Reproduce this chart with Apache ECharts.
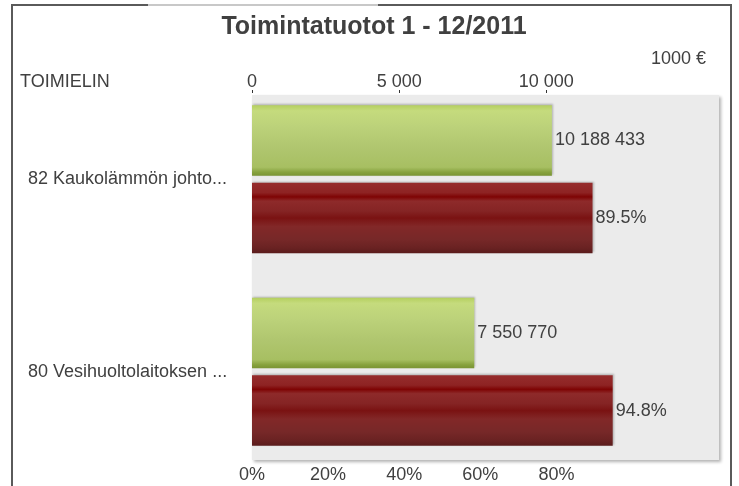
<!DOCTYPE html>
<html>
<head>
<meta charset="utf-8">
<script src="https://cdn.jsdelivr.net/npm/echarts@6/dist/echarts.min.js"></script>
<style>
  html, body { margin: 0; padding: 0; background: #fff; }
  #chart { width: 739px; height: 486px; }
</style>
</head>
<body>
<div id="chart"></div>
<script>
// toimielimet
const categories = ["82 Kaukolämmön johto...", "80 Vesihuoltolaitoksen ..."];
// toimintatuotot euroina
const tuotot = [10188433, 7550770];
// toteutumisprosentti
const toteuma = [89.5, 94.8];
// akselien näkyvät arvot
const topTicks = [0, 5000, 10000];
const bottomTicks = [0, 20, 40, 60, 80];

const font = "Liberation Sans";
const textColor = "#404040";

// välilyönti tuhaterottimena
function fmt(n) {
  return String(Math.round(n)).replace(/\B(?=(\d{3})+(?!\d))/g, " ");
}

const chart = echarts.init(document.getElementById("chart"));

const greenFill = new echarts.graphic.LinearGradient(0, 0, 0, 1, [
  { offset: 0, color: "#b4cf5e" },
  { offset: 0.08, color: "#c5db7d" },
  { offset: 0.3, color: "#bcd27a" },
  { offset: 0.6, color: "#b0c66f" },
  { offset: 0.88, color: "#a7bf62" },
  { offset: 0.95, color: "#87a23e" },
  { offset: 1, color: "#7a9434" },
]);
const redFill = new echarts.graphic.LinearGradient(0, 0, 0, 1, [
  { offset: 0, color: "#962c2c" },
  { offset: 0.14, color: "#8e2323" },
  { offset: 0.2, color: "#7e0404" },
  { offset: 0.26, color: "#8e2a2a" },
  { offset: 0.4, color: "#852424" },
  { offset: 0.5, color: "#7a1212" },
  { offset: 0.62, color: "#822828" },
  { offset: 0.8, color: "#772828" },
  { offset: 0.92, color: "#6a2222" },
  { offset: 1, color: "#5a1c1c" },
]);

const option = {
  animation: false,
  textStyle: { fontFamily: font },
  title: {
    text: "Toimintatuotot 1 - 12/2011",
    left: 369,
    top: 10,
    textAlign: "center",
    textStyle: { fontFamily: font, fontSize: 25, fontWeight: "bold", color: textColor },
  },
  graphic: [
    {
      type: "rect",
      z: -10,
      shape: { x: 252, y: 95, width: 467, height: 365 },
      style: {
        fill: "#ebebeb",
        shadowColor: "rgba(0,0,0,0.3)",
        shadowBlur: 3,
        shadowOffsetX: 2,
        shadowOffsetY: 2,
      },
      silent: true,
    },
    {
      type: "rect",
      shape: { x: 12, y: 5, width: 719, height: 490 },
      style: { fill: "none", stroke: "#5a5a5a", lineWidth: 2 },
      silent: true,
    },
    {
      type: "line",
      shape: { x1: 148, y1: 5, x2: 378, y2: 5 },
      style: { stroke: "#c8c8c8", lineWidth: 2 },
      silent: true,
    },
    {
      type: "text",
      left: 651,
      top: 50,
      style: { text: "1000 €", font: "18px " + font, fill: textColor },
    },
    {
      type: "text",
      left: 20,
      top: 73,
      style: { text: "TOIMIELIN", font: "18px " + font, fill: textColor },
    },
  ],
  grid: {
    left: 252,
    right: 19,
    top: 83,
    bottom: 18,
  },
  xAxis: [
    {
      type: "value",
      position: "top",
      offset: -10,
      min: 0,
      max: 15900,
      axisLine: { show: false },
      splitLine: { show: false },
      axisTick: { show: true, customValues: topTicks, length: 3, lineStyle: { color: "#333" } },
      axisLabel: {
        customValues: topTicks,
        formatter: (v) => fmt(v),
        color: textColor,
        fontSize: 18,
        margin: 2,
      },
    },
    {
      type: "value",
      position: "bottom",
      offset: -8,
      min: 0,
      max: 123,
      axisLine: { show: false },
      splitLine: { show: false },
      axisTick: { show: false },
      axisLabel: {
        customValues: bottomTicks,
        formatter: "{value}%",
        color: textColor,
        fontSize: 18,
        margin: 6,
      },
    },
  ],
  yAxis: {
    type: "category",
    inverse: true,
    data: categories,
    axisLine: { show: false },
    axisTick: { show: false },
    axisLabel: {
      align: "left",
      margin: 224,
      color: textColor,
      fontSize: 18,
      padding: [4, 0, 0, 0],
    },
  },
  series: [
    {
      type: "bar",
      xAxisIndex: 0,
      data: tuotot.map((v) => v / 1000),
      barGap: "10%",
      barCategoryGap: "23%",
      itemStyle: {
        color: greenFill,
        shadowColor: "rgba(0,0,0,0.25)",
        shadowBlur: 2,
        shadowOffsetX: 1,
        shadowOffsetY: -1,
      },
      label: {
        show: true,
        position: "right",
        distance: 3,
        formatter: (p) => fmt(tuotot[p.dataIndex]),
        color: textColor,
        fontSize: 18,
      },
    },
    {
      type: "bar",
      xAxisIndex: 1,
      data: toteuma,
      barGap: "10%",
      barCategoryGap: "23%",
      itemStyle: {
        color: redFill,
        shadowColor: "rgba(0,0,0,0.25)",
        shadowBlur: 2,
        shadowOffsetX: 1,
        shadowOffsetY: -1,
      },
      label: {
        show: true,
        position: "right",
        distance: 3,
        formatter: (p) => p.value.toFixed(1) + "%",
        color: textColor,
        fontSize: 18,
      },
    },
  ],
};

chart.setOption(option);
</script>
</body>
</html>
